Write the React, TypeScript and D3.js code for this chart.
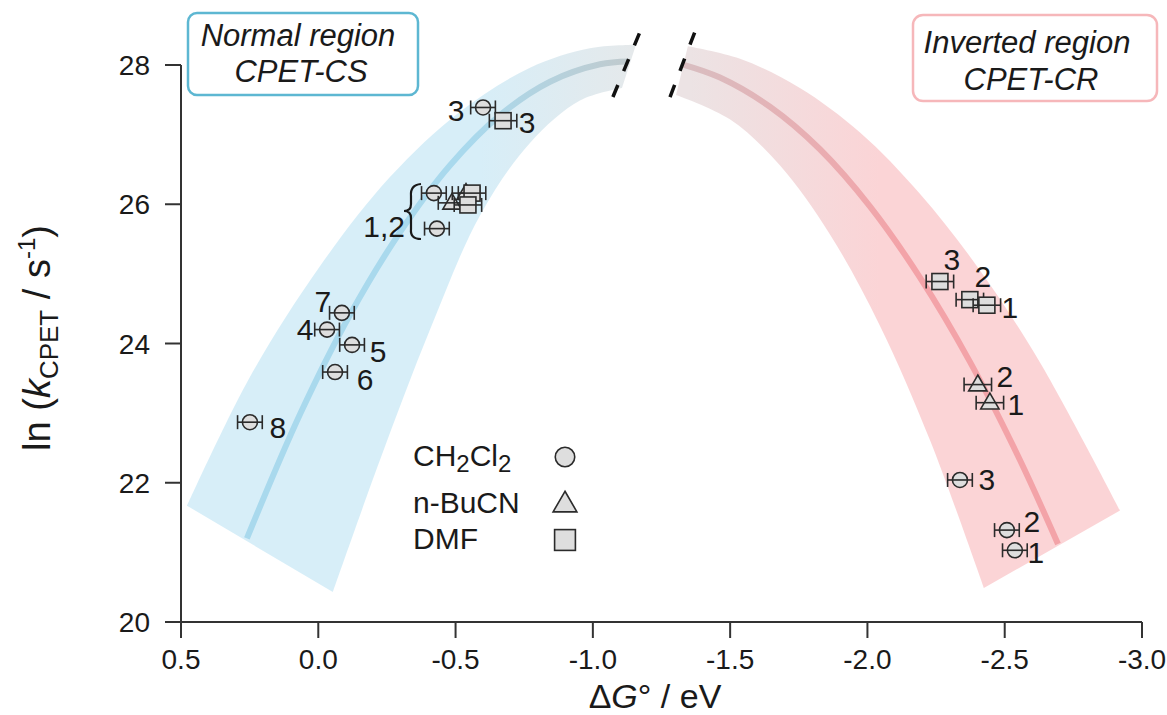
import React from "react";
import * as d3 from "d3";

const W = 1167;
const H = 715;
const FONT = "Liberation Sans, Arial, Helvetica, sans-serif";

// axis ticks
const xTicks = [0.5, 0.0, -0.5, -1.0, -1.5, -2.0, -2.5, -3.0];
const yTicks = [20, 22, 24, 26, 28];

// fitted curves: [ΔG° (eV), ln k]
const normalFit = [[0.26, 21.2], [0.067, 22.98], [-0.115, 24.41], [-0.298, 25.6], [-0.48, 26.56], [-0.662, 27.28], [-0.844, 27.76], [-1.026, 28.01], [-1.13, 28.05]];
const normalUpper = [[0.478, 21.67], [0.249, 23.52], [-0.006, 25.11], [-0.261, 26.39], [-0.516, 27.33], [-0.771, 27.96], [-0.989, 28.24], [-1.157, 28.29]];
const normalLower = [[-0.053, 20.43], [-0.225, 22.33], [-0.407, 24.2], [-0.589, 25.84], [-0.771, 26.88], [-0.953, 27.49], [-1.106, 27.67]];

const invertedFit = [[-1.325, 28.01], [-1.463, 27.82], [-1.645, 27.4], [-1.827, 26.79], [-2.009, 25.97], [-2.191, 24.95], [-2.373, 23.74], [-2.555, 22.33], [-2.694, 21.12]];
const invertedUpper = [[-1.346, 28.27], [-1.536, 28.09], [-1.754, 27.67], [-1.973, 27.03], [-2.191, 26.15], [-2.41, 25.05], [-2.628, 23.73], [-2.92, 21.6]];
const invertedLower = [[-1.303, 27.57], [-1.499, 27.22], [-1.681, 26.56], [-1.863, 25.57], [-2.045, 24.26], [-2.228, 22.61], [-2.424, 20.49]];

// axis break positions (ΔG°)
const breaks = [[-1.073, -1.172], [-1.281, -1.372]];
const breakSpan = [27.54, 28.48];

// measured points: ΔG°, ln k, error (eV), label
const csCH2Cl2 = [
  { dG: -0.6, lnk: 27.39, err: 0.045, id: "3" },
  { dG: -0.421, lnk: 26.16, err: 0.045, id: "" },
  { dG: -0.432, lnk: 25.65, err: 0.045, id: "" },
  { dG: -0.086, lnk: 24.44, err: 0.045, id: "7" },
  { dG: -0.032, lnk: 24.2, err: 0.045, id: "4" },
  { dG: -0.123, lnk: 23.98, err: 0.045, id: "5" },
  { dG: -0.061, lnk: 23.59, err: 0.045, id: "6" },
  { dG: 0.249, lnk: 22.87, err: 0.045, id: "8" },
];
const csBuCN = [
  { dG: -0.487, lnk: 26.02, err: 0.05, id: "" },
  { dG: -0.538, lnk: 26.16, err: 0.05, id: "" },
];
const csDMF = [
  { dG: -0.673, lnk: 27.2, err: 0.05, id: "3" },
  { dG: -0.56, lnk: 26.16, err: 0.05, id: "" },
  { dG: -0.545, lnk: 25.99, err: 0.05, id: "" },
];
const crCH2Cl2 = [
  { dG: -2.337, lnk: 22.04, err: 0.045, id: "3" },
  { dG: -2.508, lnk: 21.32, err: 0.045, id: "2" },
  { dG: -2.537, lnk: 21.03, err: 0.045, id: "1" },
];
const crBuCN = [
  { dG: -2.402, lnk: 23.41, err: 0.05, id: "2" },
  { dG: -2.446, lnk: 23.15, err: 0.05, id: "1" },
];
const crDMF = [
  { dG: -2.264, lnk: 24.89, err: 0.05, id: "3" },
  { dG: -2.373, lnk: 24.63, err: 0.05, id: "2" },
  { dG: -2.435, lnk: 24.55, err: 0.05, id: "1" },
];

// label offsets in px (dx to label centre, dy to baseline), same order as points
const csCH2Cl2Lab = [[-27, 14], [0, 0], [0, 0], [-19, -1], [-22, 10], [26, 17], [30, 18], [28, 16]];
const csDMFLab = [[24, 12], [0, 0], [0, 0]];
const crCH2Cl2Lab = [[27, 10], [25, 2], [21, 13]];
const crBuCNLab = [[27, 2], [26, 12]];
const crDMFLab = [[12, -12], [13, -13], [23, 13]];

const solvents = ["CH2Cl2", "n-BuCN", "DMF"];

const x = d3.scaleLinear().domain([0.5, -3.0]).range([181, 1142]);
const y = d3.scaleLinear().domain([20, 28]).range([622, 65]);

const curve = d3
  .line<number[]>()
  .x((d) => x(d[0]))
  .y((d) => y(d[1]))
  .curve(d3.curveCatmullRom.alpha(0.5));

const bandPath = (upper: number[][], lower: number[][]) => {
  const a = curve(upper) as string;
  const b = curve([...lower].reverse()) as string;
  return a + "L" + b.slice(1) + "Z";
};

const Marker = ({ shape, cx, cy, s = 1 }: any) => {
  const st = { fill: "#dedede", stroke: "#2b2b2b", strokeWidth: 1.6 };
  if (shape === "circle") return <circle cx={cx} cy={cy} r={7.5 * s} {...st} />;
  if (shape === "square") {
    const h = 8 * s;
    return <rect x={cx - h} y={cy - h} width={2 * h} height={2 * h} {...st} />;
  }
  const sym = d3.symbol(d3.symbolTriangle, 145 * s * s)() as string;
  return <path d={sym} transform={`translate(${cx},${cy + 1})`} {...st} />;
};

const Points = ({ data, shape, labels }: any) => (
  <g>
    {data.map((d: any, i: number) => {
      const cx = x(d.dG);
      const cy = y(d.lnk);
      const x0 = x(d.dG + d.err);
      const x1 = x(d.dG - d.err);
      const lab = labels ? labels[i] : null;
      return (
        <g key={i}>
          <Marker shape={shape} cx={cx} cy={cy} />
          <g stroke="#2b2b2b" strokeWidth={1.6}>
            <line x1={x0} x2={x1} y1={cy} y2={cy} />
            <line x1={x0} x2={x0} y1={cy - 7} y2={cy + 7} />
            <line x1={x1} x2={x1} y1={cy - 7} y2={cy + 7} />
          </g>
          {d.id && lab && (
            <text x={cx + lab[0]} y={cy + lab[1]} textAnchor="middle" fontSize={30} fill="#1a1a1a">
              {d.id}
            </text>
          )}
        </g>
      );
    })}
  </g>
);

export default function App() {
  const axisColor = "#333";
  return (
    <svg
      width={W}
      height={H}
      viewBox={`0 0 ${W} ${H}`}
      style={{ position: "absolute", left: 0, top: 0, background: "#fff" }}
      fontFamily={FONT}
    >
      <defs>
        <linearGradient id="gBandL" gradientUnits="userSpaceOnUse" x1={480} x2={632} y1={0} y2={0}>
          <stop offset="0" stopColor="#d7eef8" />
          <stop offset="1" stopColor="#e5e9eb" />
        </linearGradient>
        <linearGradient id="gLineL" gradientUnits="userSpaceOnUse" x1={470} x2={632} y1={0} y2={0}>
          <stop offset="0" stopColor="#a9d9ed" />
          <stop offset="1" stopColor="#c1cacd" />
        </linearGradient>
        <linearGradient id="gBandR" gradientUnits="userSpaceOnUse" x1={690} x2={880} y1={0} y2={0}>
          <stop offset="0" stopColor="#ece3e4" />
          <stop offset="1" stopColor="#fbd4d6" />
        </linearGradient>
        <linearGradient id="gLineR" gradientUnits="userSpaceOnUse" x1={690} x2={900} y1={0} y2={0}>
          <stop offset="0" stopColor="#d9bdc0" />
          <stop offset="1" stopColor="#f3a3a8" />
        </linearGradient>
      </defs>

      {/* uncertainty bands and fits */}
      <path d={bandPath(normalUpper, normalLower)} fill="url(#gBandL)" />
      <path d={bandPath(invertedUpper, invertedLower)} fill="url(#gBandR)" />
      <path d={curve(normalFit) as string} fill="none" stroke="url(#gLineL)" strokeWidth={6} />
      <path d={curve(invertedFit) as string} fill="none" stroke="url(#gLineR)" strokeWidth={6} />

      {/* axis break marks */}
      {breaks.map((b, i) => (
        <line
          key={i}
          x1={x(b[0])}
          y1={y(breakSpan[0])}
          x2={x(b[1])}
          y2={y(breakSpan[1])}
          stroke="#111"
          strokeWidth={3.5}
          strokeDasharray="13 15"
        />
      ))}

      {/* y axis */}
      <line x1={x(0.5)} x2={x(0.5)} y1={y(28)} y2={y(20)} stroke={axisColor} strokeWidth={2} />
      {yTicks.map((t) => (
        <g key={t}>
          <line x1={x(0.5) - 16} x2={x(0.5)} y1={y(t)} y2={y(t)} stroke={axisColor} strokeWidth={2} />
          <text x={x(0.5) - 31} y={y(t) + 10} textAnchor="end" fontSize={28} fill="#1a1a1a">
            {t}
          </text>
        </g>
      ))}

      {/* x axis */}
      <line x1={x(0.5)} x2={x(-3.0)} y1={y(20)} y2={y(20)} stroke={axisColor} strokeWidth={2} />
      {xTicks.map((t) => (
        <g key={t}>
          <line x1={x(t)} x2={x(t)} y1={y(20)} y2={y(20) + 16} stroke={axisColor} strokeWidth={2} />
          <text x={x(t)} y={y(20) + 47} textAnchor="middle" fontSize={28} fill="#1a1a1a">
            {d3.format(".1f")(t).replace("−", "-")}
          </text>
        </g>
      ))}

      {/* axis titles */}
      <text x={655} y={707.5} textAnchor="middle" fontSize={34} fill="#1a1a1a">
        Δ<tspan fontStyle="italic">G</tspan>° / eV
      </text>
      <text transform="translate(50,338) rotate(-90)" textAnchor="middle" fontSize={38} fill="#1a1a1a">
        ln (<tspan fontStyle="italic">k</tspan>
        <tspan fontSize={26} dy={8}>CPET</tspan>
        <tspan dy={-8}> / s</tspan>
        <tspan fontSize={24} dy={-15}>-1</tspan>
        <tspan dy={15}>)</tspan>
      </text>

      {/* data */}
      <Points data={csCH2Cl2} shape="circle" labels={csCH2Cl2Lab} />
      <Points data={csBuCN} shape="triangle" />
      <Points data={csDMF} shape="square" labels={csDMFLab} />
      <Points data={crDMF} shape="square" labels={crDMFLab} />
      <Points data={crBuCN} shape="triangle" labels={crBuCNLab} />
      <Points data={crCH2Cl2} shape="circle" labels={crCH2Cl2Lab} />

      {/* 1,2 brace */}
      <text x={405} y={237} textAnchor="end" fontSize={30} fill="#1a1a1a">1,2</text>
      <path
        d="M421,184 Q410,185 411,196 L411,204 Q411,211 404,211 Q411,211 411,218 L411,229 Q410,239 421,239"
        fill="none"
        stroke="#1a1a1a"
        strokeWidth={2.2}
      />

      {/* legend */}
      {solvents.map((s, i) => {
        const ly = [466, 513, 549][i];
        return (
          <g key={s}>
            <text x={413} y={ly} fontSize={30} fill="#1a1a1a">
              {s === "CH2Cl2" ? (
                <>
                  CH<tspan fontSize={24} dy={6}>2</tspan>
                  <tspan dy={-6}>Cl</tspan>
                  <tspan fontSize={24} dy={6}>2</tspan>
                </>
              ) : (
                s
              )}
            </text>
            <Marker shape={["circle", "triangle", "square"][i]} cx={565} cy={ly - 9} s={1.3} />
          </g>
        );
      })}

      {/* region boxes */}
      <rect x={188} y={13} width={230} height={82} rx={9} fill="#fff" stroke="#5db7d2" strokeWidth={2.5} />
      <text x={298} y={46} textAnchor="middle" fontSize={31} fontStyle="italic" fill="#1a1a1a">Normal region</text>
      <text x={301} y={82} textAnchor="middle" fontSize={31} fontStyle="italic" fill="#1a1a1a">CPET-CS</text>
      <rect x={913} y={15} width={244} height={86} rx={10} fill="#fff" stroke="#f6b7ba" strokeWidth={2.5} />
      <text x={1027} y={53} textAnchor="middle" fontSize={31} fontStyle="italic" fill="#1a1a1a">Inverted region</text>
      <text x={1031} y={90} textAnchor="middle" fontSize={31} fontStyle="italic" fill="#1a1a1a">CPET-CR</text>
    </svg>
  );
}
